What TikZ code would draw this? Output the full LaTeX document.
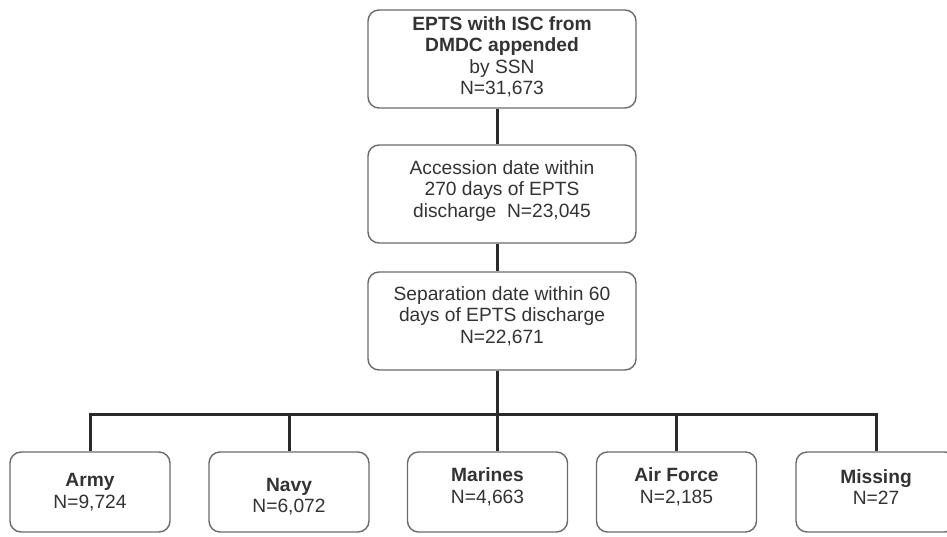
\documentclass[tikz,border=0pt]{standalone}
\usepackage{fontspec}
\setmainfont{Liberation Sans}
\definecolor{txtc}{HTML}{333333}
\definecolor{boxc}{HTML}{6A6A6A}
\definecolor{linec}{HTML}{2A2A2A}
\begin{document}
\begin{tikzpicture}[x=1pt,y=-1pt,
  box/.style={draw=boxc,line width=1.4pt,rounded corners=11pt,rectangle,inner sep=0pt},
  topbox/.style={box,minimum width=268pt,minimum height=98pt},
  botbox/.style={box,minimum width=160pt,minimum height=80pt},
  txt/.style={align=center,text=txtc,inner sep=0pt,font=\fontsize{19.2pt}{21.5pt}\selectfont},
  conn/.style={draw=linec,line width=3pt}]
\clip (0,0) rectangle (947,536);
\fill[white] (0,0) rectangle (947,536);
% top chain
\node[topbox] (b1) at (502,59) {};
\node[topbox] (b2) at (502,194) {};
\node[topbox] (b3) at (502,321) {};
\node[txt] (t1) at ([yshift=2pt]b1.center) {\textbf{EPTS with ISC from}\\\textbf{DMDC appended}\\by SSN\\N=31,673};
\node[txt] (t2) at ([yshift=3pt]b2.center) {Accession date within\\270 days of EPTS\\discharge\ \ N=23,045};
\node[txt] (t3) at ([yshift=5pt]b3.center) {Separation date within 60\\days of EPTS discharge\\N=22,671};
% bottom boxes
\node[botbox] (army) at (90,492) {};
\node[botbox] (navy) at (289,492) {};
\node[botbox] (mar) at (487.5,492) {};
\node[botbox] (air) at (676.5,492) {};
\node[botbox] (mis) at (876,492) {};
\node[txt] (ta) at (army.center) {\textbf{Army}\\N=9,724};
\node[txt] (tn) at ([yshift=-4.5pt]navy.center) {\textbf{Navy}\\N=6,072};
\node[txt] (tm) at ([yshift=5pt]mar.center) {\textbf{Marines}\\N=4,663};
\node[txt] (tf) at ([yshift=5pt]air.center) {\textbf{Air Force}\\N=2,185};
\node[txt] (ts) at ([yshift=5pt]mis.center) {\textbf{Missing}\\N=27};
% connectors
\coordinate (sp) at (497,0);
\coordinate (bus) at (0,414);
\coordinate (busL) at (army.north |- bus);
\coordinate (busR) at (mis.north |- bus);
\coordinate (busM) at (sp |- bus);
\draw[conn] (b1.south -| sp) -- (b2.north -| sp);
\draw[conn] (b2.south -| sp) -- (b3.north -| sp);
\draw[conn] (b3.south -| sp) -- (busM);
\draw[conn,line cap=rect] (busL) -- (busR);
\draw[conn] (busL) -- (army.north);
\draw[conn] (navy.north |- bus) -- (navy.north);
\draw[conn] (busM) -- (mar.north -| sp);
\draw[conn] (air.north |- bus) -- (air.north);
\draw[conn] (busR) -- (mis.north);
\end{tikzpicture}
\end{document}
